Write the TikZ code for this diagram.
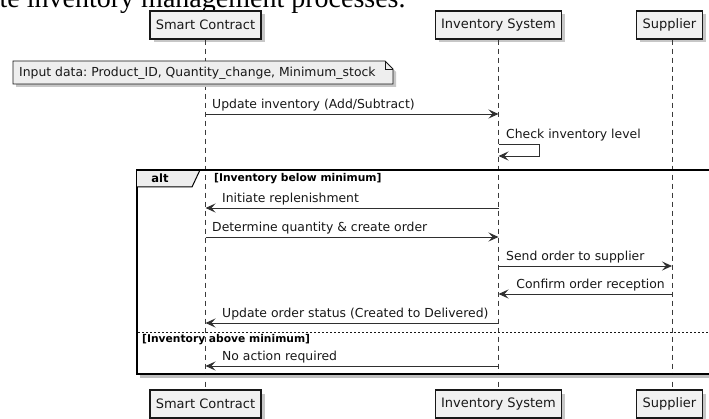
\documentclass[tikz,border=0pt]{standalone}
\usepackage{fontspec}
\setmainfont{DejaVu Sans}
\newfontfamily\serifttl{Liberation Serif}
\usetikzlibrary{arrows.meta,calc}
\frenchspacing
\definecolor{ink}{HTML}{181818}
\definecolor{boxfill}{HTML}{F1F1F1}
\definecolor{notefill}{HTML}{EEEEEE}
\tikzset{
  part/.style={draw=ink, line width=1.1pt, fill=boxfill, minimum height=28pt, inner sep=0pt,
    font=\fontsize{13}{15}\selectfont, text=ink},
  lifeline/.style={draw=ink!85, line width=0.8pt, dash pattern=on 5pt off 4pt},
  msg/.style={draw=ink!90, line width=0.9pt, -{Stealth[length=10pt, width=9pt, inset=4pt]}},
  msglabel/.style={font=\fontsize{12.4}{14}\selectfont, text=ink, inner sep=0pt},
  guard/.style={font=\bfseries\fontsize{10.7}{12}\selectfont, text=black, inner sep=0pt, anchor=west},
  shadowfill/.style={fill=black!22, draw=none},
}
\begin{document}
\begin{tikzpicture}[x=1pt, y=-1pt]
\clip (0,0) rectangle (709,419);
\fill[white] (0,0) rectangle (709,419);
% cut-off caption text at top
\node[anchor=base west, inner sep=0pt, font=\serifttl\fontsize{28}{30}\selectfont] (caption) at (-0.5,7.5) {te inventory management processes.};

% participant shadows
\foreach \cx/\w in {205.5/111, 498.5/126, 669.5/66}{
  \fill[shadowfill] (\cx-\w/2+3.5,11+3.5) rectangle (\cx+\w/2+3.5,39+3.5);
  \fill[shadowfill] (\cx-\w/2+3.5,390+3.5) rectangle (\cx+\w/2+3.5,418+3.5);
}
% participants
\node[part, minimum width=111pt] (sc) at (205.5,25) {Smart Contract};
\node[part, minimum width=126pt] (is) at (498.5,25) {Inventory System};
\node[part, minimum width=66pt] (sup) at (669.5,25) {Supplier};
\node[part, minimum width=111pt] (scb) at (205.5,404) {Smart Contract};
\node[part, minimum width=126pt] (isb) at (498.5,404) {Inventory System};
\node[part, minimum width=66pt] (supb) at (669.5,404) {Supplier};

% lifelines
\coordinate (supl) at ([xshift=2.5pt]sup.south);
\coordinate (suplb) at ([xshift=2.5pt]supb.north);
\draw[lifeline] (sc.south) -- (scb.north);
\draw[lifeline] (is.south) -- (isb.north);
\draw[lifeline] (supl) -- (suplb);

% note
\fill[shadowfill] (13+3,61+3) -- (385+3,61+3) -- (393+3,69+3) -- (393+3,84+3) -- (13+3,84+3) -- cycle;
\draw[ink, line width=0.9pt, fill=notefill] (13,61) -- (385,61) -- (393,69) -- (393,84) -- (13,84) -- cycle;
\draw[ink, line width=0.9pt] (385,61) -- (385,69) -- (393,69);
\node[msglabel, anchor=west] (note) at (19,73) {Input data: Product\_ID, Quantity\_change, Minimum\_stock};

% message 1
\coordinate (m1a) at (sc.south |- 0,114);
\coordinate (m1b) at (is.south |- 0,114);
\draw[msg] (m1a) -- (m1b);
\node[msglabel, anchor=west] (l1) at (212,105) {Update inventory (Add/Subtract)};

% self message
\coordinate (s1a) at (is.south |- 0,144);
\coordinate (s1b) at (is.south |- 0,156);
\draw[msg] (s1a) -- ++(41,0) |- (s1b);
\node[msglabel, anchor=west] (l2) at (506,135) {Check inventory level};

% alt frame
\fill[black!25] (140,374) rectangle (712,378);
\draw[black, line width=2pt] (137,170) rectangle (715,374);
\fill[notefill] (137,170) -- (200,170) -- (192,187) -- (137,187) -- cycle;
\draw[black, line width=1pt] (137,187) -- (192,187) -- (200,170);
\draw[black, line width=2pt] (137,170) -- (715,170);
\node[font=\bfseries\fontsize{11.5}{13}\selectfont, inner sep=0pt] (altlbl) at (160,178.5) {alt};
\node[guard] (g1) at (214,179) {[Inventory below minimum]};

% message: Initiate replenishment
\coordinate (m2a) at (is.south |- 0,208);
\coordinate (m2b) at (sc.south |- 0,208);
\draw[msg] (m2a) -- (m2b);
\node[msglabel, anchor=west] (l3) at (222,199) {Initiate replenishment};

% message: Determine quantity
\coordinate (m3a) at (sc.south |- 0,237);
\coordinate (m3b) at (is.south |- 0,237);
\draw[msg] (m3a) -- (m3b);
\node[msglabel, anchor=west] (l4) at (212,228) {Determine quantity \& create order};

% message: Send order
\coordinate (m4a) at (is.south |- 0,266);
\coordinate (m4b) at (supl |- 0,266);
\draw[msg] (m4a) -- (m4b);
\node[msglabel, anchor=west] (l5) at (506,257) {Send order to supplier};

% message: Confirm order
\coordinate (m5a) at (supl |- 0,294);
\coordinate (m5b) at (is.south |- 0,294);
\draw[msg] (m5a) -- (m5b);
\node[msglabel, anchor=east] (l6) at (665,285) {Confirm order reception};

% message: Update order status
\coordinate (m6a) at (is.south |- 0,323);
\coordinate (m6b) at (sc.south |- 0,323);
\draw[msg] (m6a) -- (m6b);
\node[msglabel, anchor=west] (l7) at (222,314) {Update order status (Created to Delivered)};

% separator
\draw[ink, line width=0.8pt, dash pattern=on 2pt off 2pt] (138,332) -- (712,332);
\node[guard] (g2) at (142,339.5) {[Inventory above minimum]};

% message: No action
\coordinate (m7a) at (is.south |- 0,366);
\coordinate (m7b) at (sc.south |- 0,366);
\draw[msg] (m7a) -- (m7b);
\node[msglabel, anchor=west] (l8) at (222,357) {No action required};
\end{tikzpicture}
\end{document}
